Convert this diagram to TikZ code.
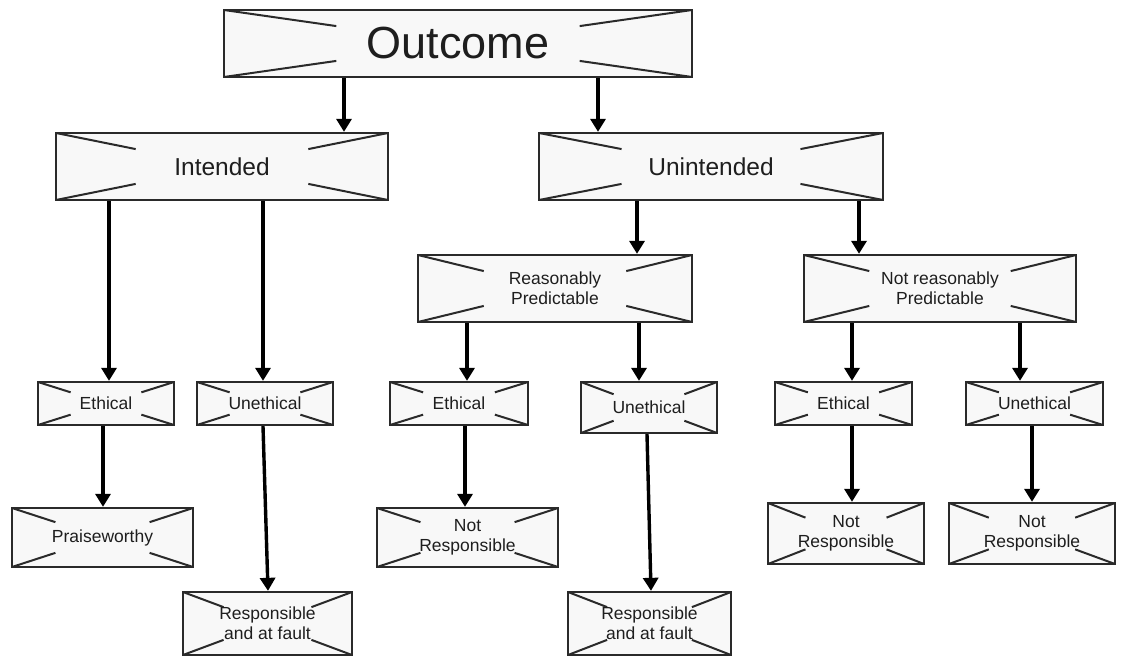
\documentclass[tikz,border=0pt]{standalone}
\usepackage{fontspec}
\setmainfont{Liberation Sans}
\usetikzlibrary{calc,arrows.meta}
\definecolor{boxfill}{HTML}{F8F8F8}
\definecolor{edge}{HTML}{2A2A2A}
\definecolor{ink}{HTML}{1E1E1E}
\tikzset{
  xbox/.style={rectangle, draw=edge, line width=2.3pt, fill=boxfill, inner sep=0pt,
    text=ink, align=center, font=\fontsize{17.5}{20}\selectfont,
    path picture={
      \draw[edge, line width=2pt]
        (path picture bounding box.north west) -- ($(path picture bounding box.north west)!0.48!(path picture bounding box.center)$)
        (path picture bounding box.north east) -- ($(path picture bounding box.north east)!0.48!(path picture bounding box.center)$)
        (path picture bounding box.south west) -- ($(path picture bounding box.south west)!0.48!(path picture bounding box.center)$)
        (path picture bounding box.south east) -- ($(path picture bounding box.south east)!0.48!(path picture bounding box.center)$);
    }},
  bigtext/.style={font=\fontsize{45}{50}\selectfont},
  midtext/.style={font=\fontsize{24.5}{28}\selectfont},
  arr/.style={black, line width=3.4pt, -{Triangle[length=13pt,width=15pt]}}
}
\begin{document}
\begin{tikzpicture}[x=1pt,y=-1pt]
\useasboundingbox[fill=white] (0,0) rectangle (1124,660);

\node[xbox, bigtext, minimum width=468pt, minimum height=67pt] (outcome) at (458,43.5) {Outcome};
\node[xbox, midtext, minimum width=332pt, minimum height=67pt] (intended) at (222,166.5) {Intended};
\node[xbox, midtext, minimum width=344pt, minimum height=67pt] (unintended) at (711,166.5) {Unintended};
\node[xbox, minimum width=274pt, minimum height=67pt] (rp) at (555,288.5) {Reasonably\\Predictable};
\node[xbox, minimum width=272pt, minimum height=67pt] (nrp) at (940,288.5) {Not reasonably\\Predictable};

\node[xbox, minimum width=136pt, minimum height=43pt] (ethI) at (106,403.5) {Ethical};
\node[xbox, minimum width=136pt, minimum height=43pt] (unethI) at (265,403.5) {Unethical};
\node[xbox, minimum width=138pt, minimum height=43pt] (ethRP) at (459,403.5) {Ethical};
\node[xbox, minimum width=136pt, minimum height=51pt] (unethRP) at (649,407.5) {Unethical};
\node[xbox, minimum width=137pt, minimum height=43pt] (ethNRP) at (843.5,403.5) {Ethical};
\node[xbox, minimum width=137pt, minimum height=43pt] (unethNRP) at (1034.5,403.5) {Unethical};

\node[xbox, minimum width=181pt, minimum height=59pt] (praise) at (102.5,537.5) {Praiseworthy};
\node[xbox, minimum width=169pt, minimum height=63pt] (respI) at (267.5,623.5) {Responsible\\and at fault};
\node[xbox, minimum width=181pt, minimum height=59pt] (nrRP) at (467.5,537.5) {Not\\Responsible};
\node[xbox, minimum width=163pt, minimum height=63pt] (respRP) at (649.5,623.5) {Responsible\\and at fault};
\node[xbox, minimum width=156pt, minimum height=61pt] (nrN1) at (846,533.5) {Not\\Responsible};
\node[xbox, minimum width=166pt, minimum height=61pt] (nrN2) at (1032,533.5) {Not\\Responsible};

\draw[arr] ([xshift=-114pt]outcome.south) -- ([xshift=122pt]intended.north);
\draw[arr] ([xshift=140pt]outcome.south) -- ([xshift=-113pt]unintended.north);

\draw[arr] ([xshift=-113pt]intended.south) -- ([xshift=3pt]ethI.north);
\draw[arr] ([xshift=41pt]intended.south) -- ([xshift=-2pt]unethI.north);
\draw[arr] ([xshift=-3pt]ethI.south) -- ([xshift=0.5pt]praise.north);
\draw[arr] ([xshift=-2pt]unethI.south) -- ([xshift=0.5pt]respI.north);

\draw[arr] ([xshift=-74pt]unintended.south) -- ([xshift=82pt]rp.north);
\draw[arr] ([xshift=148pt]unintended.south) -- ([xshift=-81pt]nrp.north);

\draw[arr] ([xshift=-88pt]rp.south) -- ([xshift=8pt]ethRP.north);
\draw[arr] ([xshift=84pt]rp.south) -- ([xshift=-10pt]unethRP.north);
\draw[arr] ([xshift=6pt]ethRP.south) -- ([xshift=-2.5pt]nrRP.north);
\draw[arr] ([xshift=-2pt]unethRP.south) -- ([xshift=1.5pt]respRP.north);

\draw[arr] ([xshift=-88pt]nrp.south) -- ([xshift=8.5pt]ethNRP.north);
\draw[arr] ([xshift=80pt]nrp.south) -- ([xshift=-14.5pt]unethNRP.north);
\draw[arr] ([xshift=8.5pt]ethNRP.south) -- ([xshift=6pt]nrN1.north);
\draw[arr] ([xshift=-2.5pt]unethNRP.south) -- ([xshift=0pt]nrN2.north);
\end{tikzpicture}
\end{document}
